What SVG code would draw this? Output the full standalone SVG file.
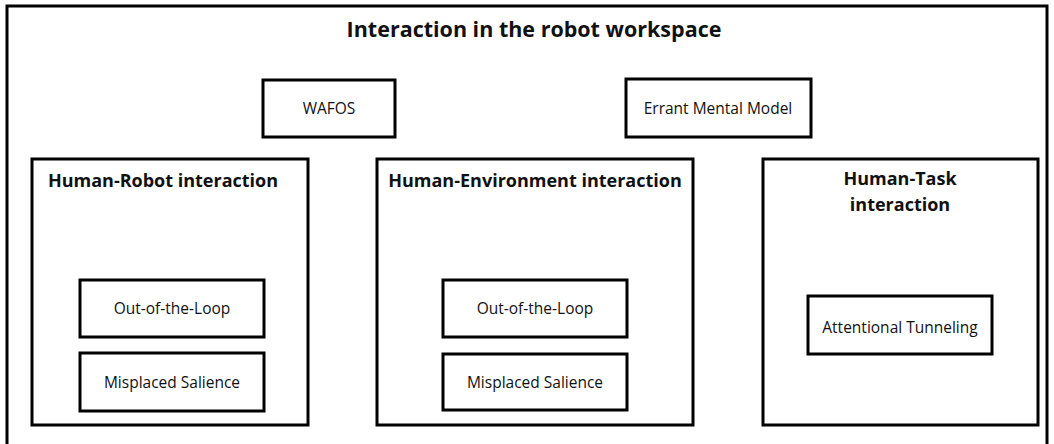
<svg xmlns="http://www.w3.org/2000/svg" width="1054" height="444" viewBox="0 0 1054 444">
<style>
.box{fill:#fff;stroke:#000;stroke-width:3}
.t{font-family:"Open Sans","Liberation Sans",sans-serif;fill:#111;text-anchor:middle}
.title{font-size:21.5px;font-weight:bold}
.head{font-size:18px;font-weight:bold}
.lbl{font-size:15.5px}
</style>
<rect width="1054" height="444" fill="#fff"/>
<g id="workspace">
<rect class="box" x="7" y="6" width="1040" height="446"/>
<text class="t title" x="534" y="37">Interaction in the robot workspace</text>
</g>
<g id="wafos">
<rect class="box" x="263" y="80" width="132" height="57"/>
<text class="t lbl" x="329" y="114">WAFOS</text>
</g>
<g id="errant">
<rect class="box" x="626" y="79" width="185" height="58"/>
<text class="t lbl" x="718" y="114">Errant Mental Model</text>
</g>
<g id="hri">
<rect class="box" x="32" y="159" width="276" height="266"/>
<text class="t head" x="163" y="187">Human-Robot interaction</text>
</g>
<g id="hri-ootl">
<rect class="box" x="80" y="280" width="184" height="57"/>
<text class="t lbl" x="172" y="314">Out-of-the-Loop</text>
</g>
<g id="hri-ms">
<rect class="box" x="80" y="353" width="184" height="58"/>
<text class="t lbl" x="172" y="388">Misplaced Salience</text>
</g>
<g id="hei">
<rect class="box" x="377" y="159" width="316" height="266"/>
<text class="t head" x="535" y="187">Human-Environment interaction</text>
</g>
<g id="hei-ootl">
<rect class="box" x="443" y="280" width="184" height="57"/>
<text class="t lbl" x="535" y="314">Out-of-the-Loop</text>
</g>
<g id="hei-ms">
<rect class="box" x="443" y="354" width="184" height="56"/>
<text class="t lbl" x="535" y="388">Misplaced Salience</text>
</g>
<g id="hti">
<rect class="box" x="763" y="159" width="275" height="266"/>
<text class="t head" x="900" y="185">Human-Task</text>
<text class="t head" x="900" y="211">interaction</text>
</g>
<g id="hti-at">
<rect class="box" x="808" y="296" width="184" height="58"/>
<text class="t lbl" x="900" y="333">Attentional Tunneling</text>
</g>
<g id="connectors"/>
</svg>
